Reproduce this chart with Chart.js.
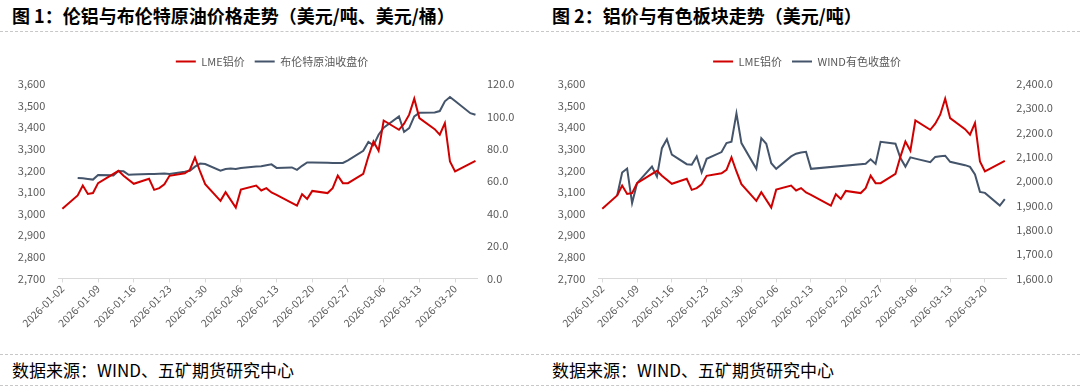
<!DOCTYPE html>
<html>
  <head>
    <meta charset="utf-8">
    <script src="https://cdn.jsdelivr.net/npm/chart.js@4.4.1/dist/chart.umd.min.js"></script>
    <style>
      body { margin: 0; width: 1080px; height: 387px; background: #fff; position: relative; overflow: hidden; font-family: "Noto Sans CJK SC", sans-serif; }
      .title { position: absolute; top: 5px; font-size: 18px; line-height: 21px; font-weight: bold; color: #000; white-space: nowrap; }
      .src { position: absolute; top: 359px; font-size: 17px; line-height: 21px; color: #000; white-space: nowrap; }
      .dash { position: absolute; left: 0; width: 1080px; border-top: 1px dashed #c8c8c8; }
      .panel { position: absolute; top: 40px; height: 305px; }
    </style>
  </head>

  <body>
    <div class="title" style="left: 12px">图 1：伦铝与布伦特原油价格走势（美元/吨、美元/桶）</div>
    <div class="title" style="left: 552px">图 2：铝价与有色板块走势（美元/吨）</div>
    <div class="dash" style="top: 31px"></div>
    <div class="dash" style="top: 354px"></div>
    <div class="dash" style="top: 385px"></div>
    <div class="src" style="left: 12px">数据来源：WIND、五矿期货研究中心</div>
    <div class="src" style="left: 552px">数据来源：WIND、五矿期货研究中心</div>
    <div class="panel" style="left: 0; width: 544px"><canvas id="c1" width="544" height="305"></canvas></div>
    <div class="panel" style="left: 540px; width: 534px"><canvas id="c2" width="534" height="305"></canvas></div>
    <script>
      const dates = [
        '2026-01-02',
        '2026-01-05', '2026-01-06', '2026-01-07', '2026-01-08', '2026-01-09',
        '2026-01-12', '2026-01-13', '2026-01-14', '2026-01-15', '2026-01-16',
        '2026-01-19', '2026-01-20', '2026-01-21', '2026-01-22', '2026-01-23',
        '2026-01-26', '2026-01-27', '2026-01-28', '2026-01-29', '2026-01-30',
        '2026-02-02', '2026-02-03', '2026-02-04', '2026-02-05', '2026-02-06',
        '2026-02-09', '2026-02-10', '2026-02-11', '2026-02-12', '2026-02-13',
        '2026-02-16', '2026-02-17', '2026-02-18', '2026-02-19', '2026-02-20',
        '2026-02-23', '2026-02-24', '2026-02-25', '2026-02-26', '2026-02-27',
        '2026-03-02', '2026-03-03', '2026-03-04', '2026-03-05', '2026-03-06',
        '2026-03-09', '2026-03-10', '2026-03-11', '2026-03-12', '2026-03-13',
        '2026-03-16', '2026-03-17', '2026-03-18', '2026-03-19', '2026-03-20',
        '2026-03-23', '2026-03-24',
      ];
      // LME铝价 (USD/t)
      const lmeAl = [
        3022,
        3084, 3130, 3091, 3095, 3141,
        null, 3198, 3175, null, 3138,
        3161, 3110, 3118, 3136, 3175,
        3187, 3203, 3260, 3195, 3136,
        3059, 3099, null, 3028, 3111,
        3130, 3107, 3118, 3098, 3087,
        null, 3037, 3090, 3068, 3105,
        3095, 3118, 3176, 3141, 3141,
        3184, 3264, 3334, 3291, 3431,
        3388, 3416, 3458, 3532, 3442,
        3391, 3365, 3419, 3241, 3195,
        null, 3244,
      ];
      // 布伦特原油收盘价 (USD/bbl)
      const brent = [
        null,
        62.0, 61.8, 61.4, 61.0, 63.8,
        63.6, 66.3, 66.1, 64.0, 64.2,
        64.4, 64.4, 64.6, 64.8, 64.5,
        65.8, 66.4, 69.0, 70.9, 70.6,
        66.5, 67.5, 67.8, 67.6, 68.2,
        69.0, 69.3, 69.9, 70.4, 68.2,
        68.5, 67.0, 69.5, 71.6, 71.6,
        71.4, 71.3, 71.2, 71.3, 72.8,
        78.8, 84.2, 82.1, 88.7, 93.0,
        100.0, 90.4, 92.8, 100.0, 102.2,
        102.4, 103.3, 109.3, 112.0, 109.5,
        102.0, 101.0,
      ];
      // WIND有色收盘价
      const windNonferrous = [
        null,
        1941, 2036, 2052, 1910, 1992,
        2060, 2019, 2136, 2173, 2109,
        2070, 2068, 2102, 2036, 2092,
        2120, 2157, 2163, 2279, 2157,
        2051, 2177, 2154, 2074, 2051,
        2102, 2113, 2118, 2121, 2051,
        null, null, null, null, null,
        null, 2072, 2090, 2071, 2162,
        2154, 2095, 2060, 2098, 2093,
        2078, 2100, 2103, 2105, 2080,
        2066, 2059, 2028, 1956, 1952,
        1900, 1926,
      ];
      const tickDates = [
        '2026-01-02', '2026-01-09', '2026-01-16', '2026-01-23', '2026-01-30', '2026-02-06',
        '2026-02-13', '2026-02-20', '2026-02-27', '2026-03-06', '2026-03-13', '2026-03-20',
      ];

      const RED = '#d00000';
      const SLATE = '#44546a';
      const GREY = '#595959';
      const FONT = '"Noto Sans CJK SC", sans-serif';

      const t0 = Date.parse('2026-01-02T00:00:00Z');
      const dayOf = (s) => (Date.parse(s + 'T00:00:00Z') - t0) / 864e5;
      const labelOf = {};
      tickDates.forEach((s) => (labelOf[dayOf(s)] = s));
      const series = (vals) => dates.map((d, i) => ({ x: dayOf(d), y: vals[i] }));

      // push chart area a bit lower than the legend box
      const legendGap = {
        id: 'legendGap',
        beforeInit(chart) {
          const fit = chart.legend.fit;
          chart.legend.fit = function () {
            fit.call(this);
            this.height += 7;
          };
        },
      };

      function makeChart(id, opts) {
        return new Chart(document.getElementById(id).getContext('2d'), {
          type: 'line',
          data: {
            datasets: [
              {
                label: 'LME铝价',
                data: series(lmeAl),
                borderColor: RED,
                backgroundColor: RED,
                borderWidth: 2,
                pointRadius: 0,
                spanGaps: true,
                yAxisID: 'y',
              },
              {
                label: opts.label2,
                data: series(opts.values2),
                borderColor: SLATE,
                backgroundColor: SLATE,
                borderWidth: 2,
                pointRadius: 0,
                spanGaps: true,
                yAxisID: 'y2',
              },
            ],
          },
          plugins: [legendGap],
          options: {
            responsive: false,
            animation: false,
            layout: { padding: { top: 6, left: 0, right: 0, bottom: 0 } },
            plugins: {
              tooltip: { enabled: false },
              legend: {
                position: 'top',
                labels: {
                  usePointStyle: true,
                  pointStyle: 'line',
                  pointStyleWidth: 20,
                  boxHeight: 11,
                  padding: 10,
                  color: GREY,
                  font: { family: FONT, size: 11 },
                },
              },
            },
            scales: {
              x: {
                type: 'linear',
                min: -0.8,
                max: 81.3,
                afterBuildTicks: (s) => {
                  s.ticks = tickDates.map((d) => ({ value: dayOf(d) }));
                },
                afterFit: (s) => {
                  s.height = 66.6;
                },
                border: { display: true, color: '#d9d9d9' },
                grid: { drawOnChartArea: false, color: '#d9d9d9', tickLength: 4 },
                ticks: {
                  autoSkip: false,
                  minRotation: 45,
                  maxRotation: 45,
                  padding: 0,
                  color: GREY,
                  font: { family: FONT, size: 10.5 },
                  callback: (v) => labelOf[v] || '',
                },
              },
              y: {
                position: 'left',
                min: 2700,
                max: 3600,
                afterFit: (s) => {
                  s.width = opts.leftWidth;
                },
                border: { display: false },
                grid: { display: false, drawTicks: false },
                ticks: {
                  stepSize: 100,
                  padding: 13,
                  color: GREY,
                  font: { family: FONT, size: 11 },
                  callback: (v) => v.toLocaleString('en-US'),
                },
              },
              y2: {
                position: 'right',
                min: opts.min2,
                max: opts.max2,
                afterFit: (s) => {
                  s.width = opts.rightWidth;
                },
                border: { display: false },
                grid: { display: false, drawTicks: false },
                ticks: {
                  stepSize: opts.step2,
                  padding: 10,
                  color: GREY,
                  font: { family: FONT, size: 11 },
                  callback: (v) => v.toLocaleString('en-US', { minimumFractionDigits: 1, maximumFractionDigits: 1 }),
                },
              },
            },
          },
        });
      }

      makeChart('c1', {
        label2: '布伦特原油收盘价',
        values2: brent,
        min2: 0,
        max2: 120,
        step2: 20,
        leftWidth: 58.3,
        rightWidth: 67,
      });
      makeChart('c2', {
        label2: 'WIND有色收盘价',
        values2: windNonferrous,
        min2: 1600,
        max2: 2400,
        step2: 100,
        leftWidth: 58.3,
        rightWidth: 67.7,
      });
    </script>
  </body>
</html>
